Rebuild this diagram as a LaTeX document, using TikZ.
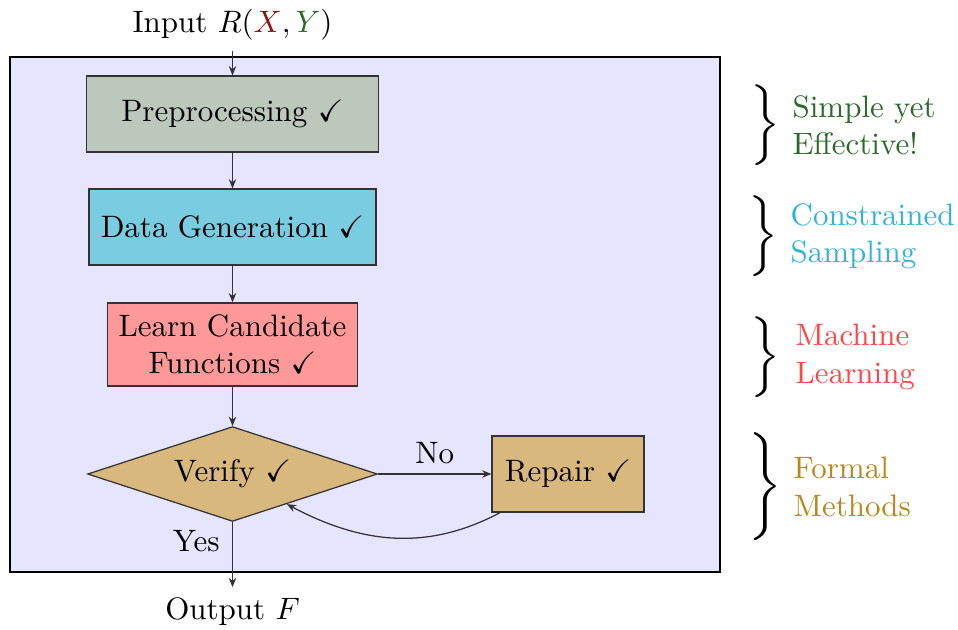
\documentclass[tikz,border=0pt]{standalone}
\usepackage{amssymb}
\usepackage{graphicx}
\usetikzlibrary{shapes.geometric,arrows.meta}

\definecolor{bgblue}{RGB}{229,229,255}
\definecolor{prefill}{RGB}{187,200,187}
\definecolor{genfill}{RGB}{122,204,224}
\definecolor{learnfill}{RGB}{255,153,153}
\definecolor{tanfill}{RGB}{216,184,124}
\definecolor{txtgreen}{RGB}{45,105,45}
\definecolor{txtcyan}{RGB}{50,180,215}
\definecolor{txtred}{RGB}{255,70,70}
\definecolor{txtgold}{RGB}{185,135,30}
\definecolor{xred}{RGB}{140,20,20}

\newcommand{\ok}{$\checkmark$}
\newcommand{\sidebrace}[1]{\scalebox{1.45}{$\left.\vcenter{\hbox{\rule{0pt}{#1}}}\right\}$}}

\tikzset{
  stage/.style={draw=black!80, inner sep=0pt, align=center},
  arr/.style={draw=black!80, -{Stealth[length=3pt,width=2.4pt]}},
  note/.style={anchor=west, align=left, inner sep=0pt},
}

\begin{document}
\begin{tikzpicture}[x=0.3226pt, y=-0.3226pt]
  \useasboundingbox (0,0) rectangle (958,629);

  % enclosing frame
  \draw[thick, fill=bgblue] (10,57) rectangle (720,572);

  % pipeline stages
  \node[stage, fill=prefill, minimum width=94.2pt, minimum height=24.5pt] (pre) at (232.5,114) {Preprocessing \ok};
  \node[stage, fill=genfill, minimum width=92.6pt, minimum height=24.5pt] (gen) at (232.5,227) {Data Generation \ok};
  \node[stage, fill=learnfill, minimum width=80.6pt, minimum height=26.8pt] (learn) at (232.5,344.5) {Learn Candidate\\Functions \ok};
  \node[stage, diamond, aspect=3, fill=tanfill, minimum width=93.5pt, minimum height=30.6pt] (ver) at (232.5,474) {Verify \ok};
  \node[stage, fill=tanfill, minimum width=49pt, minimum height=24.5pt] (rep) at (568,474) {Repair \ok};

  % input and output
  \node (in) at (232.5,25) {Input $R({\color{xred}X},{\color{txtgreen}Y})$};
  \node (out) at (232.5,612) {Output $F$};

  % connectors
  \draw[arr] (in.south) -- (pre.north);
  \draw[arr] (pre.south) -- (gen.north);
  \draw[arr] (gen.south) -- (learn.north);
  \draw[arr] (learn.south) -- (ver.north);
  \draw[arr] (ver.east) -- node[above, inner sep=3pt] {No} (rep.west);
  \draw[arr] ([xshift=2.8pt]rep.south west) to[out=-152, in=-28] (ver.-29);
  \draw[arr] (ver.south) -- node[left, pos=0.3, inner sep=4pt] {Yes} (out.north);

  % side annotations
  \node[inner sep=0pt] (b1) at (763,125) {\sidebrace{17pt}};
  \node[note, text=txtgreen] (t1) at (792,125) {Simple yet\\Effective!};
  \node[inner sep=0pt] (b2) at (761,236) {\sidebrace{17pt}};
  \node[note, text=txtcyan] (t2) at (790,236) {Constrained\\Sampling};
  \node[inner sep=0pt] (b3) at (763,357) {\sidebrace{17pt}};
  \node[note, text=txtred] (t3) at (795,357) {Machine\\Learning};
  \node[inner sep=0pt] (b4) at (763,487) {\sidebrace{22pt}};
  \node[note, text=txtgold] (t4) at (793,487) {Formal\\Methods};
\end{tikzpicture}
\end{document}
